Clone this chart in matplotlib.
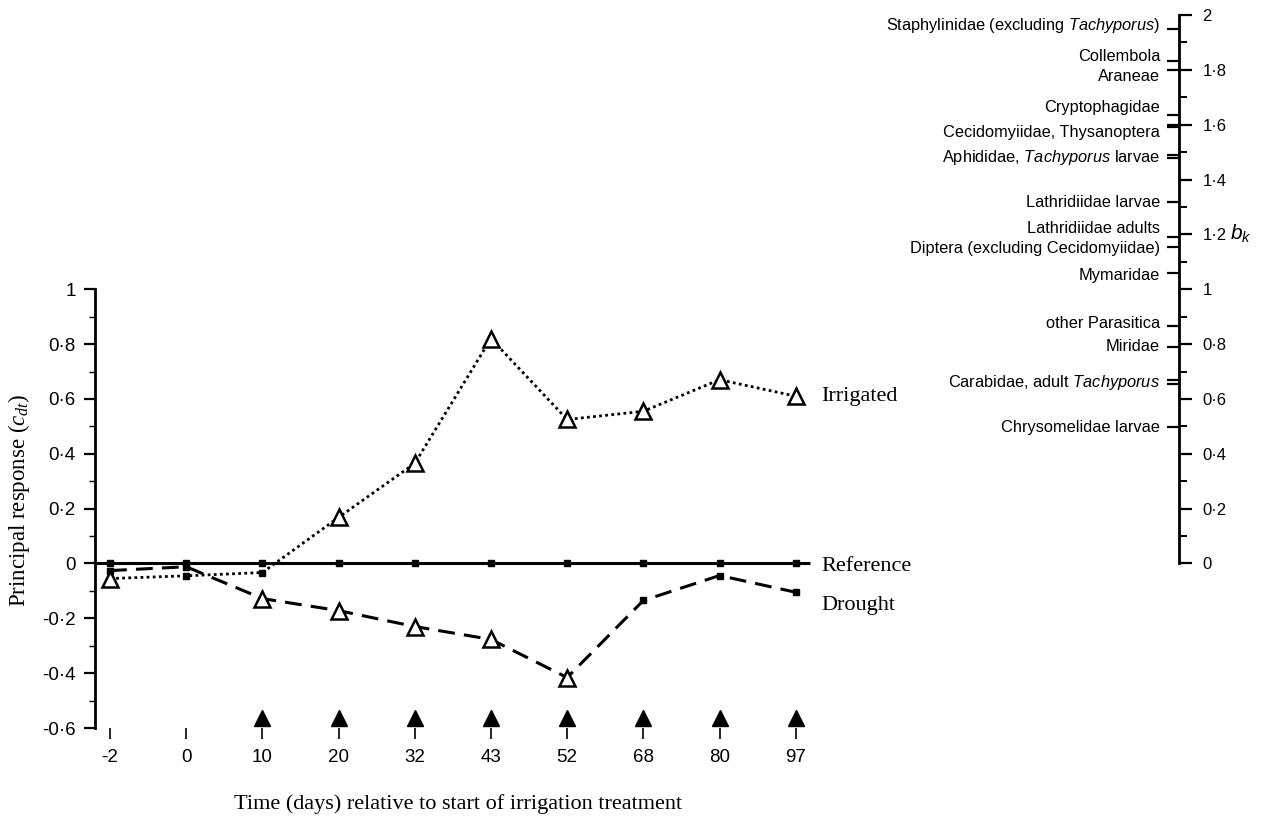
import numpy as np
import matplotlib
matplotlib.use("Agg")
import matplotlib.pyplot as plt
from matplotlib.ticker import FixedLocator, FuncFormatter

# sampling dates (days relative to start of irrigation)
days = [-2, 0, 10, 20, 32, 43, 52, 68, 80, 97]
irrigated = [-0.055, -0.045, -0.033, 0.168, 0.365, 0.82, 0.525, 0.555, 0.67, 0.61]
drought = [-0.026, -0.012, -0.128, -0.172, -0.23, -0.277, -0.416, -0.135, -0.044, -0.105]
reference = [0, 0, 0, 0, 0, 0, 0, 0, 0, 0]
# open triangle = treatment differs from reference, small square = it does not
irrigated_sig = [True, False, False, True, True, True, True, True, True, True]
drought_sig = [False, False, True, True, True, True, True, False, False, False]
irrigation_days = [10, 20, 32, 43, 52, 68, 80, 97]

# taxon weights b_k
taxa = [
    r"Staphylinidae (excluding $\mathsf{Tachyporus}$)",
    "Collembola",
    "Araneae",
    "Cryptophagidae",
    "Cecidomyiidae, Thysanoptera",
    r"Aphididae, $\mathsf{Tachyporus}$ larvae",
    "Lathridiidae larvae",
    "Lathridiidae adults",
    "Diptera (excluding Cecidomyiidae)",
    "Mymaridae",
    "other Parasitica",
    "Miridae",
    r"Carabidae, adult $\mathsf{Tachyporus}$",
    "Chrysomelidae larvae",
]
bk_ticks = [[1.95], [1.832], [1.80], [1.635], [1.59, 1.60], [1.49, 1.48], [1.317],
            [1.19], [1.153], [1.058], [0.865], [0.79], [0.67, 0.655], [0.497]]
# text anchors, nudged apart where weights crowd together
label_y = [1.963, 1.847, 1.777, 1.661, 1.573, 1.482, 1.318, 1.223, 1.150, 1.051,
           0.876, 0.792, 0.661, 0.496]

plt.rcParams["font.family"] = ["Liberation Sans", "DejaVu Sans"]
plt.rcParams["mathtext.fontset"] = "custom"
plt.rcParams["mathtext.rm"] = "Liberation Serif"
plt.rcParams["mathtext.it"] = "Liberation Serif:italic"
plt.rcParams["mathtext.sf"] = "Liberation Sans:italic"
SERIF = ["Liberation Serif", "DejaVu Serif"]


def dot_decimal(v, _pos):
    return f"{round(v, 1):g}".replace(".", "\u00b7")


fig = plt.figure(figsize=(12.63, 8.18), dpi=100)
ax = fig.add_axes([0.07522, 0.11002, 0.85827, 0.87164])
x = np.arange(len(days))
ax.set_xlim(-0.197, 14.03)
ax.set_ylim(-0.6, 2.0)

# treatment curves
ax.hlines(0, -0.197, x[-1] + 0.19, color="black", lw=2.2, zorder=2)
ax.plot(x, reference, ls="none", marker="s", ms=5, color="black", zorder=3)
ax.plot(x, irrigated, color="black", lw=2.0, ls=(0, (1, 1.2)), zorder=2)
ax.plot(x, drought, color="black", lw=2.2, ls=(0, (5.5, 3)), zorder=2)
for vals, sig in [(irrigated, irrigated_sig), (drought, drought_sig)]:
    vals = np.array(vals)
    sig = np.array(sig)
    ax.plot(x[sig], vals[sig], ls="none", marker="^", ms=12, mew=1.8,
            mfc="white", mec="black", zorder=4)
    ax.plot(x[~sig], vals[~sig], ls="none", marker="s", ms=5, color="black", zorder=4)

text_x = x[-1] + 0.34
ax.text(text_x, irrigated[-1], "Irrigated", fontsize=16, family=SERIF, va="center")
ax.text(text_x, -0.012, "Reference", fontsize=16, family=SERIF, va="center")
ax.text(text_x, -0.155, "Drought", fontsize=16, family=SERIF, va="center")

# irrigation events
irr_x = [days.index(d) for d in irrigation_days]
ax.plot(irr_x, [-0.565] * len(irr_x), ls="none", marker="^", ms=11, color="black")

# left axis
for side in ["top", "right", "bottom"]:
    ax.spines[side].set_visible(False)
ax.spines["left"].set_bounds(-0.6, 1)
ax.spines["left"].set_linewidth(2.0)
ax.yaxis.set_major_locator(FixedLocator(np.arange(-0.6, 1.01, 0.2)))
ax.yaxis.set_minor_locator(FixedLocator(np.arange(-0.5, 0.91, 0.2)))
ax.yaxis.set_major_formatter(FuncFormatter(dot_decimal))
ax.tick_params(axis="y", which="major", direction="out", length=8, width=1.6,
               labelsize=13.5, pad=6)
ax.tick_params(axis="y", which="minor", direction="out", length=4, width=1.0)
ax.set_xticks(x)
ax.set_xticklabels([str(d) for d in days])
ax.tick_params(axis="x", direction="out", length=8, width=1.2, labelsize=13.5, pad=7)
ax.set_ylabel(r"Principal response ($c_{dt}$)", fontsize=16.5, family=SERIF)
ax.yaxis.set_label_coords(-0.058, 0.32)
ax.set_xlabel("Time (days) relative to start of irrigation treatment",
              fontsize=16, family=SERIF)
ax.xaxis.set_label_coords(0.3345, -0.093)

# right axis: taxon weights
ax2 = ax.twinx()
ax2.set_ylim(-0.6, 2.0)
for side in ["top", "left", "bottom"]:
    ax2.spines[side].set_visible(False)
ax2.spines["right"].set_bounds(0, 2)
ax2.spines["right"].set_linewidth(2.0)
ax2.yaxis.set_major_locator(FixedLocator(np.arange(0, 2.01, 0.2)))
ax2.yaxis.set_minor_locator(FixedLocator(np.arange(0.1, 1.91, 0.2)))
ax2.yaxis.set_major_formatter(FuncFormatter(dot_decimal))
ax2.tick_params(axis="y", which="major", direction="out", length=9, width=1.6,
                labelsize=12, pad=8)
ax2.tick_params(axis="y", which="minor", direction="out", length=6, width=1.4)

trans = ax2.get_yaxis_transform()
for name, ticks, ty in zip(taxa, bk_ticks, label_y):
    ax2.hlines(ticks, 0.989, 1.0, transform=trans, color="black", lw=1.6, clip_on=False)
    ax2.text(0.9825, ty, name, transform=trans, ha="right", va="center", fontsize=11.8)
ax2.text(1.047, 1.205, r"$\mathsf{b}_{\mathsf{k}}$", transform=trans, ha="left",
         va="center", fontsize=15)

fig.savefig("out.png", dpi=100)
